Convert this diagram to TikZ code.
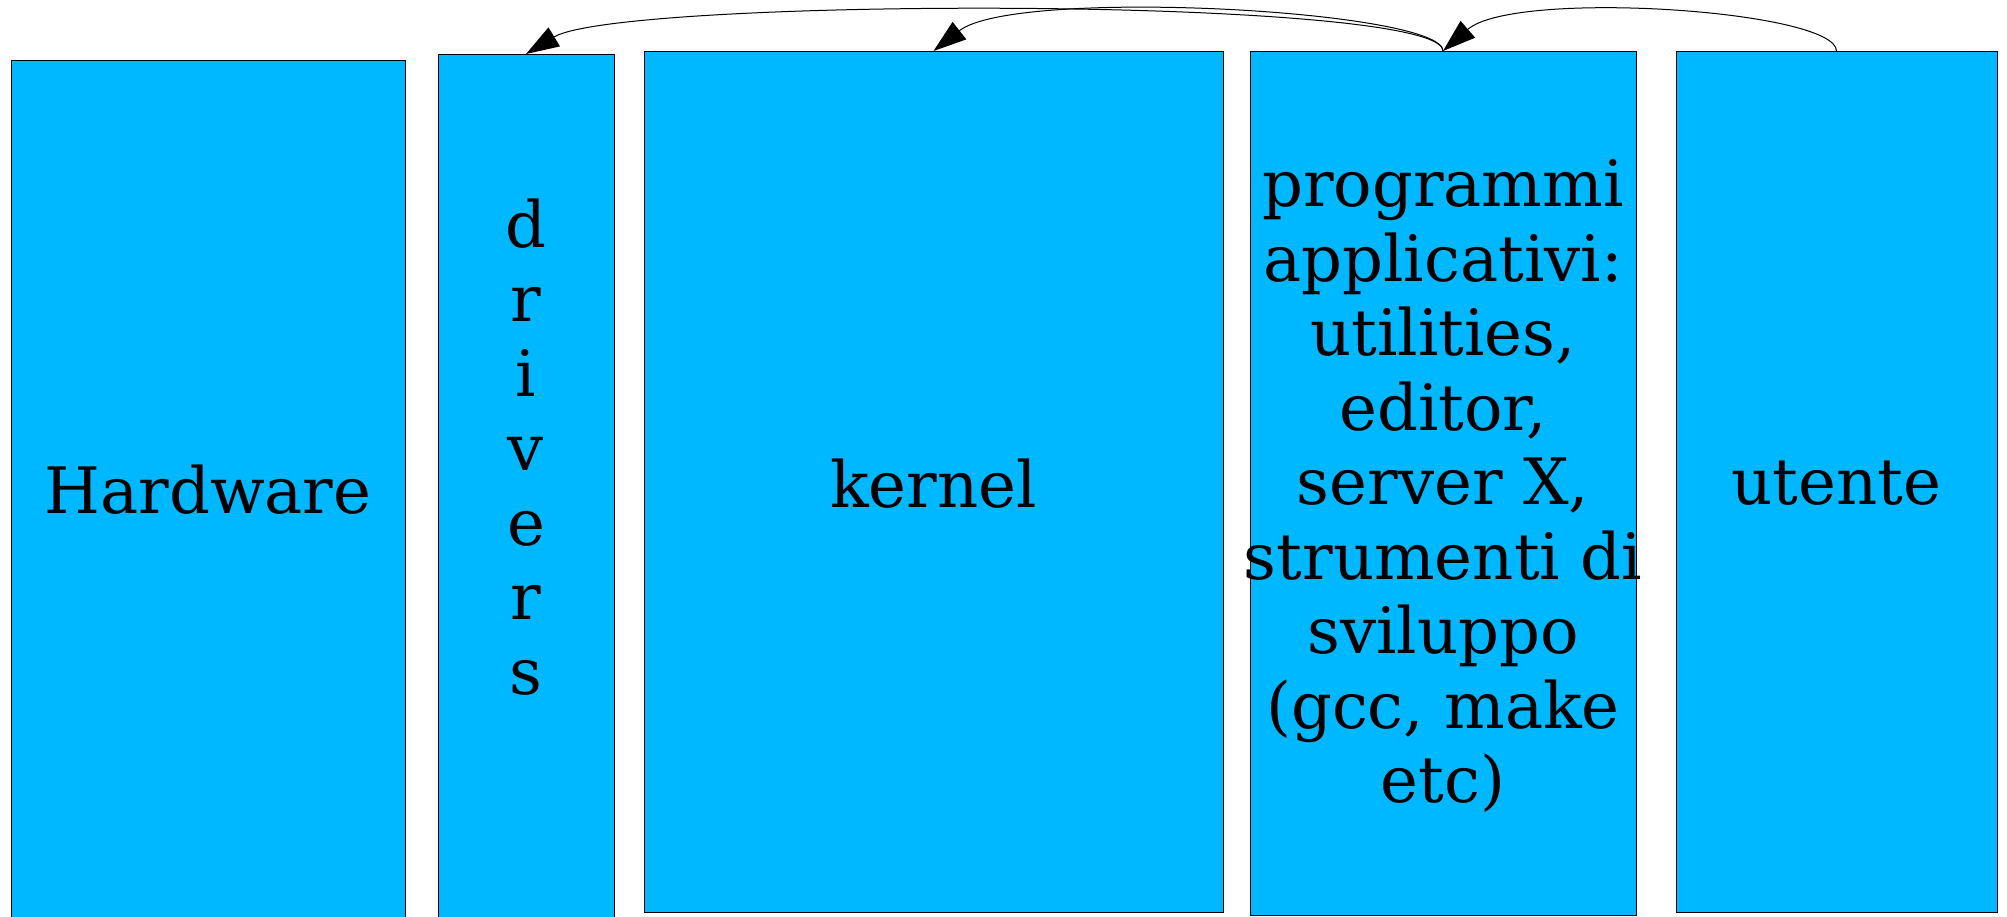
\documentclass[tikz,border=0pt]{standalone}
\usepackage{fontspec}
\setmainfont{DejaVu Serif}
\usetikzlibrary{arrows.meta}
\definecolor{sky}{HTML}{00B8FF}
\begin{document}
\begin{tikzpicture}[x=1pt,y=-1pt,
  layer/.style={draw=black, line width=1pt, fill=sky, inner sep=0pt, outer sep=0pt, anchor=north west},
  lbl/.style={font=\fontsize{64}{74.5}\selectfont, align=center, inner sep=0pt},
  link/.style={line width=1pt, -{Triangle[length=33pt,width=22pt]}}]
\useasboundingbox (0,0) rectangle (2007,916);

% the five layers, left to right
\node[layer, minimum width=394pt, minimum height=860pt] (hw)   at (11,60)   {};
\node[layer, minimum width=176pt, minimum height=866pt] (drv)  at (438,54)  {};
\node[layer, minimum width=579pt, minimum height=861pt] (ker)  at (644,51)  {};
\node[layer, minimum width=386pt, minimum height=864pt] (prog) at (1250,51) {};
\node[layer, minimum width=321pt, minimum height=861pt] (ute)  at (1676,51) {};

% labels
\node[lbl] (hwt)  at (hw.center)  {Hardware};
\node[lbl] (drvt) at (526,447)    {d\\r\\i\\v\\e\\r\\s};
\node[lbl] (kert) at ([yshift=-2pt]ker.center) {kernel};
\node[lbl] (progt) at ([yshift=-3pt]prog.center) {programmi\\applicativi:\\utilities,\\editor,\\server X,\\strumenti di\\sviluppo\\(gcc, make\\etc)};
\node[lbl] (utet) at ([yshift=-2pt]ute.center) {utente};

% calls between the layers
\draw[link] (prog.north) .. controls (1443,-4) and (620,-3) .. (drv.north);
\draw[link] (prog.north) .. controls (1443,10) and (1015,-13) .. (ker.north);
\draw[link] (ute.north) .. controls (1836,10) and (1514,-11) .. (prog.north);
\end{tikzpicture}
\end{document}
